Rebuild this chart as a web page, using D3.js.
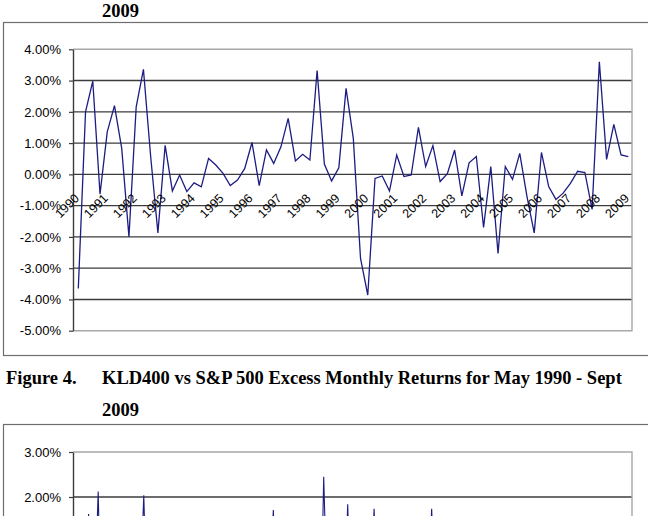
<!DOCTYPE html>
<html>
<head>
<meta charset="utf-8">
<script src="https://cdn.jsdelivr.net/npm/d3@7/dist/d3.min.js"></script>
<style>
  body { margin: 0; background: #fff; }
  svg { display: block; }
  .caption { font-family: "Liberation Serif", "Times New Roman", serif; font-weight: bold; font-size: 17px; fill: #000; }
  .axis text, .xlab { font-family: "Liberation Sans", Arial, sans-serif; fill: #000; }
</style>
</head>
<body>
<svg id="page" width="648" height="516"></svg>
<script>
// Figure 3 (lower part): quarterly excess returns, percent
var years = [1990, 1991, 1992, 1993, 1994, 1995, 1996, 1997, 1998, 1999,
             2000, 2001, 2002, 2003, 2004, 2005, 2006, 2007, 2008, 2009];
var quarterlyReturns = [
  -3.65, 2.00, 2.98, -0.63, 1.36, 2.20, 0.83, -2.00, 2.16, 3.36,
   0.57, -1.87, 0.93, -0.53, -0.02, -0.55, -0.27, -0.40, 0.51, 0.30,
   0.03, -0.36, -0.18, 0.19, 1.02, -0.36, 0.78, 0.35, 0.88, 1.79,
   0.43, 0.64, 0.46, 3.32, 0.33, -0.21, 0.21, 2.75, 1.15, -2.69,
  -3.86, -0.13, -0.05, -0.53, 0.62, -0.07, -0.02, 1.50, 0.25, 0.92,
  -0.23, 0.02, 0.78, -0.69, 0.37, 0.57, -1.70, 0.25, -2.53, 0.25,
  -0.16, 0.67, -0.71, -1.87, 0.70, -0.39, -0.80, -0.60, -0.29, 0.10,
   0.06, -1.12, 3.60, 0.48, 1.60, 0.62, 0.57
];
var yTicks = [4, 3, 2, 1, 0, -1, -2, -3, -4, -5];

// Figure 4 (only its top is on the page): monthly excess returns, percent
var monthCount = 233;   // May 1990 - Sept 2009
var fig4Months  = [0, 5, 6, 7, 9, 10, 11, 28, 29, 30, 82, 83, 84, 103, 104, 105,
                   113, 114, 115, 124, 125, 126, 148, 149, 150, 232];
var fig4Returns = [0.3, 0.4, 1.62, 0.2, 0.5, 2.12, -0.3, 0.6, 2.04, 0.1, 0.4, 1.71, 0.3,
                   -0.2, 2.45, 0.5, 0.2, 1.84, -0.1, 0.3, 1.74, 0.2, 0.4, 1.74, 0.1, 0.3];
var yTicks2 = [3, 2];   // the lower ticks fall below the page

var svg = d3.select("#page");
var plotLeft = 73, plotRight = 632;

function fmt(v) { return v.toFixed(2) + "%"; }

function drawFrame(top, bottom) {
  svg.append("rect")
    .attr("x", 3.5).attr("y", top + 0.5)
    .attr("width", 700).attr("height", bottom - top)
    .attr("fill", "none").attr("stroke", "#6e6e6e").attr("stroke-width", 1.2);
}

// Gridlines, plot border and left value axis
function drawValueAxis(y, ticks, innerTicks) {
  var yMin = y.domain()[0], yMax = y.domain()[1];
  svg.append("g").selectAll("line.grid")
    .data(innerTicks)
    .join("line")
      .attr("x1", plotLeft).attr("x2", plotRight)
      .attr("y1", function(d) { return y(d); })
      .attr("y2", function(d) { return y(d); })
      .attr("stroke", "#3c3c3c").attr("stroke-width", 1.4);

  // plot area border (top, right, bottom) in light grey
  svg.append("path")
    .attr("d", "M" + plotLeft + "," + y(yMax) + "H" + plotRight +
               "V" + y(yMin) + "H" + plotLeft)
    .attr("fill", "none").attr("stroke", "#a8a8a8").attr("stroke-width", 1.4);

  var ax = svg.append("g")
    .attr("class", "axis")
    .attr("transform", "translate(" + plotLeft + ",0)")
    .call(d3.axisLeft(y).tickValues(ticks).tickFormat(fmt)
      .tickSize(4).tickPadding(8).tickSizeOuter(0));
  ax.select(".domain").attr("stroke", "#3c3c3c").attr("stroke-width", 1.4);
  ax.selectAll(".tick line").attr("stroke", "#3c3c3c").attr("stroke-width", 1.2);
  ax.selectAll("text").style("font-size", "13px");
  return ax;
}

////////////////////////////////////////////////
// Figure 3 chart

drawFrame(22, 355);

var x1 = d3.scalePoint()
  .domain(d3.range(quarterlyReturns.length))
  .range([78.3, 628.3]);
var y1 = d3.scaleLinear().domain([-5, 4]).range([330.7, 49.3]);

drawValueAxis(y1, yTicks, yTicks.slice(1, -1));

svg.append("path")
  .datum(quarterlyReturns)
  .attr("fill", "none")
  .attr("stroke", "#1c1c82")
  .attr("stroke-width", 1.3)
  .attr("stroke-linejoin", "miter")
  .attr("d", d3.line()
    .x(function(d, i) { return x1(i); })
    .y(function(d) { return y1(d); }));

// one year label every four quarters, rotated like Excel does
svg.append("g").selectAll("text")
  .data(years)
  .join("text")
    .attr("class", "xlab")
    .attr("text-anchor", "end")
    .style("font-size", "12.5px")
    .attr("transform", function(d, i) {
      return "translate(" + (x1(i * 4) + 1.5) + ",199) rotate(-45)";
    })
    .text(function(d) { return d; });

////////////////////////////////////////////////
// Captions

svg.append("text").attr("class", "caption")
  .attr("x", 102).attr("y", 17).text("2009");

svg.append("text").attr("class", "caption")
  .attr("x", 6).attr("y", 384).text("Figure 4.");

var longCap = svg.append("text").attr("class", "caption")
  .attr("x", 102).attr("y", 384)
  .text("KLD400 vs S&P 500 Excess Monthly Returns for May 1990 - Sept");

svg.append("text").attr("class", "caption")
  .attr("x", 102).attr("y", 416).text("2009");

// fit caption font to the width it has in the document
var capW = longCap.node().getComputedTextLength();
var capSize = 17 * 520 / capW;
svg.selectAll(".caption").style("font-size", capSize + "px");

////////////////////////////////////////////////
// Figure 4 chart (cut off at the page bottom)

drawFrame(424, 640);

var x2 = d3.scalePoint()
  .domain(d3.range(monthCount))
  .range([plotLeft + 1.2, plotRight - 1.2]);
var y2 = d3.scaleLinear().domain([-3, 3]).range([722, 452]);

drawValueAxis(y2, yTicks2, [2, 1, 0, -1, -2]);

svg.append("path")
  .datum(fig4Months.map(function(m, i) { return [m, fig4Returns[i]]; }))
  .attr("fill", "none")
  .attr("stroke", "#1c1c82")
  .attr("stroke-width", 1.1)
  .attr("d", d3.line()
    .x(function(d) { return x2(d[0]); })
    .y(function(d) { return y2(d[1]); }));
</script>
</body>
</html>
